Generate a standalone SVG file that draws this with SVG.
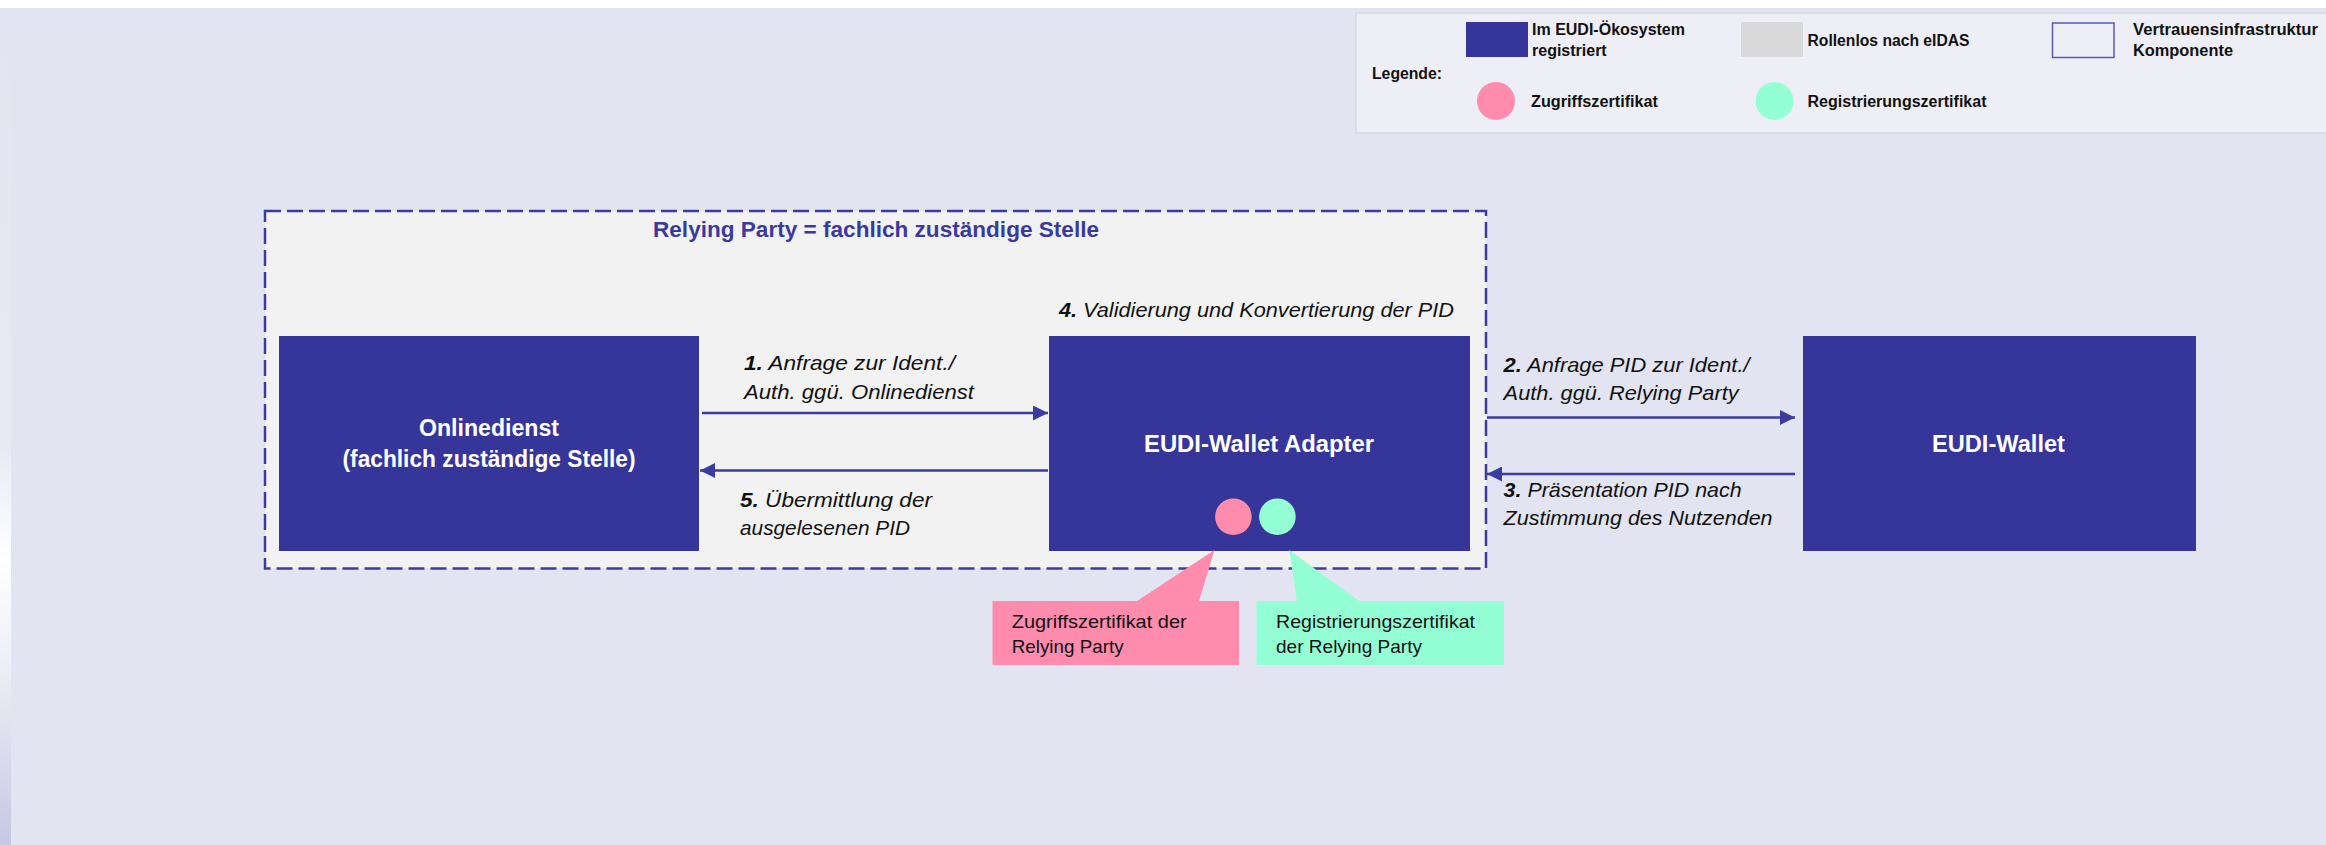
<svg xmlns="http://www.w3.org/2000/svg" width="2326" height="845" viewBox="0 0 2326 845">
<defs>
<linearGradient id="strip" x1="0" y1="0" x2="0" y2="1">
<stop offset="0" stop-color="#E2E4F1"/>
<stop offset="0.52" stop-color="#E8E9F4"/>
<stop offset="0.66" stop-color="#FFFFFF"/>
<stop offset="0.8" stop-color="#ECECF5"/>
<stop offset="1" stop-color="#C6C7E3"/>
</linearGradient>
<marker id="arr" markerWidth="15" markerHeight="15" refX="15" refY="7.5" orient="auto" markerUnits="userSpaceOnUse">
<path d="M0,0 L15,7.5 L0,15 Z" fill="#3C3CA0"/>
</marker>
<style>
.box{fill:#36359A}
.lbl{font-family:"Liberation Sans",Arial,sans-serif;font-weight:bold;font-size:23px;fill:#FFFFFF;text-anchor:middle}
.step{font-family:"Liberation Sans",Arial,sans-serif;font-style:italic;font-size:21px;fill:#111111}
.num{font-weight:bold}
.leg{font-family:"Liberation Sans",Arial,sans-serif;font-weight:bold;font-size:16px;fill:#111111}
.call{font-family:"Liberation Sans",Arial,sans-serif;font-size:19px;fill:#111111}
.conn{stroke:#3C3CA0;stroke-width:2.5;fill:none;marker-end:url(#arr)}
</style>
</defs>
<rect x="0" y="0" width="2326" height="845" fill="#FFFFFF"/>
<rect x="11" y="8" width="2315" height="837" fill="#E2E4F1"/>
<rect x="0" y="8" width="11" height="837" fill="url(#strip)"/>

<g id="legend">
<rect x="1356" y="13" width="980" height="120" fill="#EEEFF6" stroke="#D6D7E0" stroke-width="1.5"/>
<rect x="1466" y="22" width="62" height="35" fill="#36359A"/>
<text class="leg" x="1532" y="35" textLength="153" lengthAdjust="spacingAndGlyphs">Im EUDI-Ökosystem</text>
<text class="leg" x="1532" y="55.7">registriert</text>
<rect x="1741" y="22" width="62" height="35" fill="#D9D9D9"/>
<text class="leg" x="1807.5" y="45.5" textLength="162" lengthAdjust="spacingAndGlyphs">Rollenlos nach eIDAS</text>
<rect x="2052.5" y="23" width="61.5" height="34.5" fill="none" stroke="#5A5AB4" stroke-width="1.5"/>
<text class="leg" x="2133" y="35" textLength="185" lengthAdjust="spacingAndGlyphs">Vertrauensinfrastruktur</text>
<text class="leg" x="2133" y="55.7" textLength="100" lengthAdjust="spacingAndGlyphs">Komponente</text>
<text class="leg" x="1372" y="79" textLength="70" lengthAdjust="spacingAndGlyphs">Legende:</text>
<circle cx="1496" cy="101" r="19" fill="#FF8BAD"/>
<text class="leg" x="1531" y="107.3" textLength="127" lengthAdjust="spacingAndGlyphs">Zugriffszertifikat</text>
<circle cx="1774.5" cy="101" r="19" fill="#94FFD4"/>
<text class="leg" x="1807.5" y="107.3" textLength="179" lengthAdjust="spacingAndGlyphs">Registrierungszertifikat</text>
</g>

<g id="relying-party">
<rect x="265" y="211" width="1221" height="357.5" fill="#F2F2F2" stroke="#3C3CA0" stroke-width="2.5" stroke-dasharray="16 6"/>
<text x="876" y="236.5" font-family="'Liberation Sans',Arial,sans-serif" font-weight="bold" font-size="22.5" fill="#3A3A9E" text-anchor="middle" textLength="446" lengthAdjust="spacingAndGlyphs">Relying Party = fachlich zuständige Stelle</text>
</g>

<g id="onlinedienst">
<rect class="box" x="279" y="336" width="420" height="215"/>
<text class="lbl" x="489" y="435.5" textLength="140" lengthAdjust="spacingAndGlyphs">Onlinedienst</text>
<text class="lbl" x="489" y="466.5" textLength="293" lengthAdjust="spacingAndGlyphs">(fachlich zuständige Stelle)</text>
</g>

<g id="adapter">
<rect class="box" x="1049" y="336" width="421" height="215"/>
<text class="lbl" x="1259" y="451.7" textLength="230" lengthAdjust="spacingAndGlyphs">EUDI-Wallet Adapter</text>
<circle cx="1233.4" cy="516.7" r="18.3" fill="#FF8BAD"/>
<circle cx="1277.4" cy="516.7" r="18.3" fill="#94FFD4"/>
</g>

<g id="wallet">
<rect class="box" x="1803" y="336" width="393" height="215"/>
<text class="lbl" x="1998.5" y="451.7" textLength="133" lengthAdjust="spacingAndGlyphs">EUDI-Wallet</text>
</g>

<g id="step4">
<text class="step" x="1059" y="316.7" textLength="395" lengthAdjust="spacingAndGlyphs"><tspan class="num">4.</tspan> Validierung und Konvertierung der PID</text>
</g>

<g id="callout-zugriff">
<path d="M992.5,601 L1137,601 L1214.5,550 L1199,601 L1239,601 L1239,665 L992.5,665 Z" fill="#FF8BAD"/>
<text class="call" x="1011.7" y="627.7" textLength="175" lengthAdjust="spacingAndGlyphs">Zugriffszertifikat der</text>
<text class="call" x="1011.7" y="653.3" textLength="112" lengthAdjust="spacingAndGlyphs">Relying Party</text>
</g>

<g id="callout-registrierung">
<path d="M1256.5,601 L1297,601 L1289.2,550 L1359,601 L1504,601 L1504,665 L1256.5,665 Z" fill="#94FFD4"/>
<text class="call" x="1276" y="627.7" textLength="199" lengthAdjust="spacingAndGlyphs">Registrierungszertifikat</text>
<text class="call" x="1276" y="653.3" textLength="146" lengthAdjust="spacingAndGlyphs">der Relying Party</text>
</g>

<g id="connectors">
<line class="conn" x1="702" y1="413" x2="1048" y2="413"/>
<line class="conn" x1="1048" y1="470.5" x2="700" y2="470.5"/>
<line class="conn" x1="1487" y1="417.5" x2="1795" y2="417.5"/>
<line class="conn" x1="1795" y1="474" x2="1487" y2="474"/>
<text class="step" x="744" y="370" textLength="211" lengthAdjust="spacingAndGlyphs"><tspan class="num">1.</tspan> Anfrage zur Ident./</text>
<text class="step" x="744" y="398.5" textLength="230" lengthAdjust="spacingAndGlyphs">Auth. ggü. Onlinedienst</text>
<text class="step" x="740" y="507" textLength="192" lengthAdjust="spacingAndGlyphs"><tspan class="num">5.</tspan> Übermittlung der</text>
<text class="step" x="740" y="535" textLength="170" lengthAdjust="spacingAndGlyphs">ausgelesenen PID</text>
<text class="step" x="1503.6" y="371.7" textLength="246" lengthAdjust="spacingAndGlyphs"><tspan class="num">2.</tspan> Anfrage PID zur Ident./</text>
<text class="step" x="1503.6" y="400" textLength="235" lengthAdjust="spacingAndGlyphs">Auth. ggü. Relying Party</text>
<text class="step" x="1503.6" y="496.7" textLength="238" lengthAdjust="spacingAndGlyphs"><tspan class="num">3.</tspan> Präsentation PID nach</text>
<text class="step" x="1503.6" y="525" textLength="269" lengthAdjust="spacingAndGlyphs">Zustimmung des Nutzenden</text>
</g>
</svg>
